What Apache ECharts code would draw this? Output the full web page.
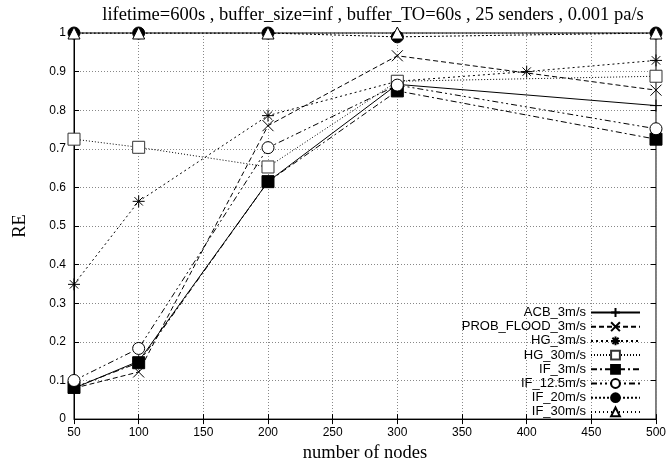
<!DOCTYPE html>
<html><head><meta charset="utf-8">
<script src="https://cdn.jsdelivr.net/npm/echarts@6/dist/echarts.min.js"></script>
<style>html,body{margin:0;padding:0;background:#fff}#c{width:669px;height:468px}</style>
</head><body><div id="c"></div>
<script>
const titleText = 'lifetime=600s , buffer_size=inf , buffer_TO=60s , 25 senders , 0.001 pa/s';
const xTicks = [50,100,150,200,250,300,350,400,450,500];
const seriesNames = ['ACB_3m/s','PROB_FLOOD_3m/s','HG_3m/s','HG_30m/s','IF_3m/s','IF_12.5m/s','IF_20m/s','IF_30m/s'];
const xACB = [50,100,200,300,500];
const yACB = [0.08,0.15,0.615,0.867,0.812];
const xPROB = [50,100,200,300,500];
const yPROB = [0.08,0.122,0.76,0.941,0.852];
const xHG3 = [50,100,200,300,400,500];
const yHG3 = [0.349,0.564,0.786,0.875,0.90,0.929];
const xHG30 = [50,100,200,300,500];
const yHG30 = [0.725,0.704,0.653,0.875,0.888];
const xIF3 = [50,100,200,300,500];
const yIF3 = [0.082,0.146,0.615,0.85,0.725];
const xIF125 = [50,100,200,300,500];
const yIF125 = [0.10,0.183,0.703,0.865,0.752];
const xIF20 = [50,100,200,300,500];
const yIF20 = [1.0,1.0,1.0,0.99,1.0];
const xIF30 = [50,100,200,300,500];
const yIF30 = [1.0,1.0,1.0,1.0,1.0];

const pair = (xs, ys) => xs.map((x, i) => [x, ys[i]]);
const PLUS = 'path://M0,5 L10,5 M5,0 L5,10';
const CROSS = 'path://M0,0 L10,10 M10,0 L0,10';
const STAR = 'path://M0,5 L10,5 M5,0 L5,10 M1.5,1.5 L8.5,8.5 M8.5,1.5 L1.5,8.5';

function mk(name, data, symbol, size, dash, itemStyle) {
  return {
    name, type: 'line', data, symbol, symbolSize: size, showAllSymbol: true,
    lineStyle: { color: '#000', width: 1, type: dash },
    itemStyle: Object.assign({ color: '#000', borderColor: '#000', borderWidth: 1 }, itemStyle || {}),
    emphasis: { disabled: true }
  };
}

const chart = echarts.init(document.getElementById('c'), null, { renderer: 'canvas' });
const sans = 'Liberation Sans';
const serif = 'Liberation Serif';
chart.setOption({
  animation: false,
  backgroundColor: '#fff',
  title: { text: titleText, left: 368, top: 1, textAlign: 'center',
    textStyle: { fontFamily: serif, fontSize: 18.5, fontWeight: 'normal', color: '#000' } },
  grid: { left: 74, right: 12, top: 33, bottom: 43, show: true, borderColor: '#000', borderWidth: 1, backgroundColor: 'transparent' },
  legend: {
    orient: 'vertical', right: 23, top: 301, align: 'right', itemWidth: 49, itemHeight: 11, itemGap: 1.2,
    textStyle: { fontFamily: sans, fontSize: 13, lineHeight: 13, color: '#000', padding: [0, 0, 0, 0] },
    data: seriesNames, selectedMode: false
  },
  xAxis: [{
    type: 'value', min: 50, max: 500, interval: 50,
    name: 'number of nodes', nameLocation: 'middle', nameGap: 22,
    nameTextStyle: { fontFamily: serif, fontSize: 18.5, color: '#000' },
    axisLine: { show: true, lineStyle: { color: '#000' } },
    axisTick: { inside: true, length: 5, lineStyle: { color: '#000' } },
    axisLabel: { fontFamily: sans, fontSize: 12, color: '#000', margin: 8 },
    splitLine: { show: true, lineStyle: { color: '#888', type: [1, 2] } }
  }, {
    type: 'value', min: 50, max: 500, interval: 50, position: 'top',
    axisLine: { show: false }, axisTick: { inside: true, length: 5, lineStyle: { color: '#000' } },
    axisLabel: { show: false }, splitLine: { show: false }
  }],
  yAxis: [{
    type: 'value', min: 0, max: 1, interval: 0.1,
    name: 'RE', nameLocation: 'middle', nameGap: 44, nameRotate: 90,
    nameTextStyle: { fontFamily: serif, fontSize: 18.5, color: '#000' },
    axisLine: { show: true, lineStyle: { color: '#000' } },
    axisTick: { inside: true, length: 5, lineStyle: { color: '#000' } },
    axisLabel: { fontFamily: sans, fontSize: 12, color: '#000', margin: 8,
      formatter: v => (Math.round(v * 10) / 10).toString() },
    splitLine: { show: true, lineStyle: { color: '#888', type: [1, 2] } }
  }, {
    type: 'value', min: 0, max: 1, interval: 0.1, position: 'right',
    axisLine: { show: false }, axisTick: { inside: true, length: 5, lineStyle: { color: '#000' } },
    axisLabel: { show: false }, splitLine: { show: false }
  }],
  series: [
    mk(seriesNames[0], pair(xACB, yACB), PLUS, 12, 'solid'),
    mk(seriesNames[1], pair(xPROB, yPROB), CROSS, 11, [5, 3]),
    mk(seriesNames[2], pair(xHG3, yHG3), STAR, 12, [2, 3]),
    mk(seriesNames[3], pair(xHG30, yHG30), 'rect', 12, [1, 2], { color: '#fff', borderColor: '#333' }),
    mk(seriesNames[4], pair(xIF3, yIF3), 'rect', 12, [6, 3, 2, 3]),
    mk(seriesNames[5], pair(xIF125, yIF125), 'circle', 12, [6, 3, 2, 3, 2, 3], { color: '#fff' }),
    mk(seriesNames[6], pair(xIF20, yIF20), 'circle', 12, [2, 2]),
    mk(seriesNames[7], pair(xIF30, yIF30), 'triangle', 12, [1, 3], { color: '#fff' })
  ]
});
</script>
</body></html>
